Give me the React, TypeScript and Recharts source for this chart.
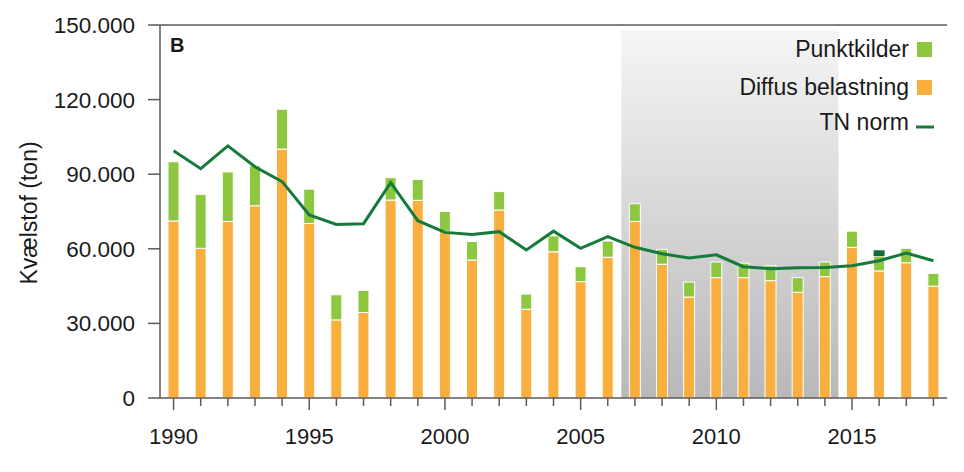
import React from 'react';
import {
  ComposedChart,
  Bar,
  Line,
  XAxis,
  YAxis,
  ReferenceArea,
  ReferenceLine,
} from 'recharts';

const years = [
  '1990', '1991', '1992', '1993', '1994', '1995', '1996', '1997', '1998', '1999',
  '2000', '2001', '2002', '2003', '2004', '2005', '2006', '2007', '2008', '2009',
  '2010', '2011', '2012', '2013', '2014', '2015', '2016', '2017', '2018',
];

const diffus = [
  71200, 60200, 71000, 77300, 100100, 70200, 31400, 34400, 79600, 79500,
  67000, 55500, 75600, 35700, 58800, 46800, 56600, 71000, 53800, 40600,
  48400, 48400, 47200, 42500, 48800, 60600, 51100, 54400, 45000,
];

const punkt = [
  23800, 21700, 19900, 16100, 16000, 13800, 10100, 8900, 9000, 8400,
  8000, 7400, 7400, 6100, 6400, 6000, 6500, 7100, 6000, 6000,
  6300, 5800, 6000, 5900, 5900, 6500, 6000, 5800, 5100,
];

const extra = [
  0, 0, 0, 0, 0, 0, 0, 0, 0, 0,
  0, 0, 0, 0, 0, 0, 0, 0, 0, 0,
  0, 0, 0, 0, 0, 0, 2300, 0, 0,
];

const tnNorm = [
  99400, 92200, 101400, 93000, 87000, 73600, 69800, 70100, 86600, 71300,
  66600, 65800, 66900, 59500, 67100, 60200, 64900, 60600, 58000, 56300,
  57600, 52800, 52000, 52400, 52500, 53200, 55200, 58300, 55200,
];

const yTicks = [0, 30000, 60000, 90000, 120000, 150000];

const legendLabels = ['Punktkilder', 'Diffus belastning', 'TN norm'];

const data = years.map((y, i) => ({
  year: y,
  diffus: diffus[i],
  punkt: punkt[i],
  extra: extra[i],
  tn: tnNorm[i],
}));

const FONT = '"Liberation Sans", Arial, sans-serif';
const TEXT = '#1a1a1a';
const AXIS = '#5a5a5a';
const ORANGE = '#F9AE3D';
const GREEN = '#8DC63F';
const LINE = '#167A3D';
const DARK = '#0E6B3A';

const fmt = (v: number) => String(v).replace(/\B(?=(\d{3})+(?!\d))/g, '.');

const XTick = (props: any) => {
  const { x, y, payload } = props;
  const yr = Number(payload.value);
  const major = yr % 5 === 0;
  return (
    <g>
      <line x1={x} y1={y} x2={x} y2={y + (major ? 12 : 8)} stroke={AXIS} strokeWidth={1.5} />
      {major && (
        <text x={x} y={y + 46} textAnchor="middle" fontSize={22} fill={TEXT} fontFamily={FONT}>
          {payload.value}
        </text>
      )}
    </g>
  );
};

const YLabel = () => (
  <text
    x={23}
    y={205}
    transform="rotate(-90 23 205)"
    textAnchor="middle"
    dominantBaseline="middle"
    fontSize={23}
    fill={TEXT}
    fontFamily={FONT}
  >
    Kvælstof (ton)
  </text>
);

export default function App() {
  return (
    <div style={{ position: 'relative', width: 956, height: 464 }}>
      <ComposedChart
        width={956}
        height={464}
        data={data}
        margin={{ top: 17, right: 17, left: 0, bottom: 0 }}
        barCategoryGap={0}
      >
        <defs>
          <linearGradient id="shade" x1="0" y1="0" x2="0" y2="1">
            <stop offset="0%" stopColor="#f5f5f5" />
            <stop offset="100%" stopColor="#b8b8b8" />
          </linearGradient>
        </defs>
        <ReferenceArea
          x1="2007"
          x2="2014"
          y1={0}
          y2={148000}
          fill="url(#shade)"
          fillOpacity={1}
          stroke="none"
        />
        <XAxis
          dataKey="year"
          type="category"
          interval={0}
          tickLine={false}
          tickSize={0}
          tickMargin={0}
          axisLine={{ stroke: AXIS, strokeWidth: 1.5 }}
          tick={<XTick />}
          height={74}
        />
        <YAxis
          width={152}
          domain={[0, 150000]}
          ticks={yTicks}
          interval={0}
          tickFormatter={fmt}
          tickSize={12}
          tickMargin={13}
          axisLine={{ stroke: AXIS, strokeWidth: 1.5 }}
          tickLine={{ stroke: AXIS, strokeWidth: 1.5 }}
          tick={{ fontSize: 22.5, fill: TEXT, fontFamily: FONT }}
          label={<YLabel />}
        />
        <YAxis
          yAxisId="r"
          orientation="right"
          width={0}
          domain={[0, 150000]}
          tick={false}
          tickLine={false}
          axisLine={{ stroke: AXIS, strokeWidth: 1.5 }}
        />
        <ReferenceLine y={150000} stroke={AXIS} strokeWidth={1.5} />
        <Bar dataKey="diffus" stackId="a" fill={ORANGE} stroke="#ffffff" strokeWidth={1} barSize={11} isAnimationActive={false} />
        <Bar dataKey="punkt" stackId="a" fill={GREEN} stroke="#ffffff" strokeWidth={1} barSize={11} isAnimationActive={false} />
        <Bar dataKey="extra" stackId="a" fill={DARK} stroke="none" barSize={11} isAnimationActive={false} />
        <Line
          dataKey="tn"
          type="linear"
          stroke={LINE}
          strokeWidth={3}
          dot={false}
          activeDot={false}
          isAnimationActive={false}
        />
      </ComposedChart>
      <svg
        width={956}
        height={464}
        style={{ position: 'absolute', left: 0, top: 0, pointerEvents: 'none' }}
      >
        <text x={162} y={44} fontSize={20} fontWeight="bold" fill={TEXT} fontFamily={FONT}>
          B
        </text>
        <text x={901} y={49} textAnchor="end" fontSize={23} fill={TEXT} fontFamily={FONT}>
          {legendLabels[0]}
        </text>
        <rect x={909} y={34} width={15} height={15} fill={GREEN} />
        <text x={901} y={87} textAnchor="end" fontSize={23} fill={TEXT} fontFamily={FONT}>
          {legendLabels[1]}
        </text>
        <rect x={909} y={72} width={15} height={15} fill={ORANGE} />
        <text x={901} y={122} textAnchor="end" fontSize={23} fill={TEXT} fontFamily={FONT}>
          {legendLabels[2]}
        </text>
        <line x1={908} y1={119} x2={926} y2={119} stroke={LINE} strokeWidth={3} />
      </svg>
    </div>
  );
}
